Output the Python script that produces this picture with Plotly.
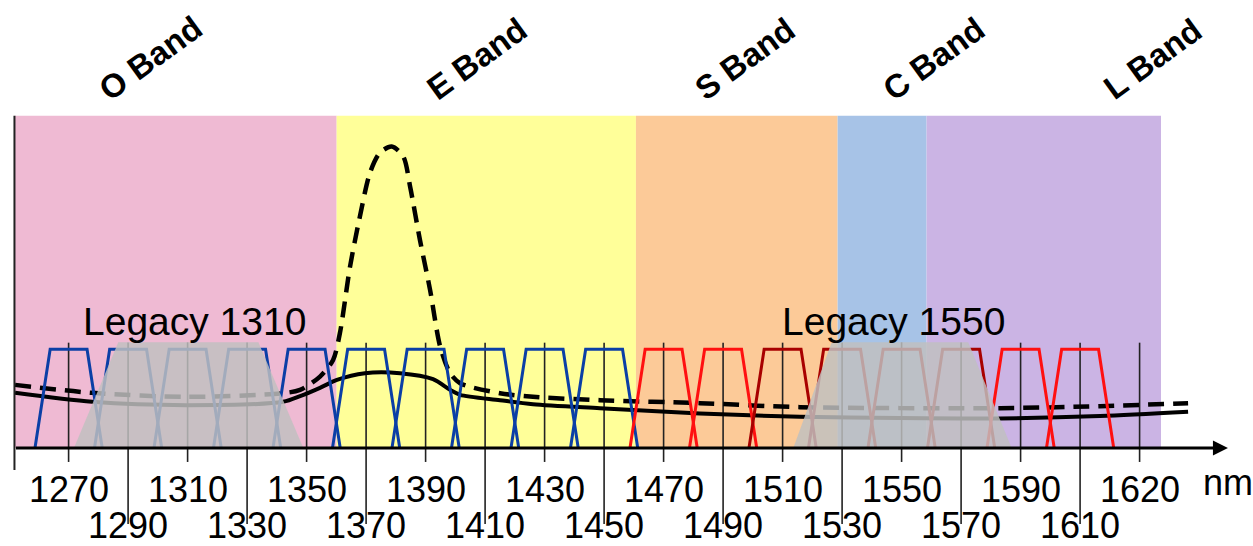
import plotly.graph_objects as go

# ---------------- data ----------------
band_names = ["O Band", "E Band", "S Band", "C Band", "L Band"]
band_edges = [1251.8, 1360.1, 1460.7, 1528.5, 1558.4, 1637.2]
band_colors = ["#EFBAD3", "#FFFF99", "#FCCA98", "#A7C3E7", "#CBB4E4"]
band_label_x = [1297.4, 1407.3, 1497.4, 1560.9, 1634.5]

tick_positions = [1270, 1290, 1310, 1330, 1350, 1370, 1390, 1410, 1430, 1450,
                  1470, 1490, 1510, 1530, 1550, 1570, 1590, 1610, 1630]
tick_labels = ["1270", "1290", "1310", "1330", "1350", "1370", "1390", "1410", "1430", "1450",
               "1470", "1490", "1510", "1530", "1550", "1570", "1590", "1610", "1620"]

channel_centers = [1270, 1290, 1310, 1330, 1350, 1370, 1390, 1410, 1430, 1450,
                   1470, 1490, 1510, 1530, 1550, 1570, 1590, 1610]
channel_groups = ["blue"] * 10 + ["red", "red", "darkred", "darkred", "darkred", "darkred", "red", "red"]

# low-water-peak fibre attenuation (solid)
wl_solid = [1252.0, 1277.9, 1309.5, 1342.1, 1347.8, 1354.5, 1360.2, 1369.6, 1381.4,
            1392.5, 1398.2, 1401.6, 1415.0, 1426.1, 1448.6, 1482.2, 1515.8, 1549.4,
            1583.1, 1616.7, 1646.3]
att_solid = [0.166, 0.139, 0.129, 0.139, 0.156, 0.181, 0.205, 0.225, 0.225,
             0.207, 0.175, 0.160, 0.144, 0.132, 0.120, 0.104, 0.094, 0.090,
             0.089, 0.096, 0.109]

# standard fibre with water peak (dashed)
wl_dashed = [1252.0, 1277.9, 1309.5, 1342.1, 1347.8, 1354.5, 1358.9, 1361.2, 1364.6,
             1367.9, 1371.3, 1374.6, 1378.6, 1382.5, 1384.8, 1388.1, 1391.5, 1394.9,
             1398.2, 1401.6, 1415.0, 1426.1, 1448.6, 1482.2, 1515.8, 1583.1, 1616.7, 1646.3]
att_dashed = [0.190, 0.166, 0.154, 0.165, 0.175, 0.215, 0.265, 0.346, 0.546,
              0.696, 0.828, 0.888, 0.907, 0.877, 0.786, 0.626, 0.476, 0.305,
              0.226, 0.195, 0.165, 0.154, 0.144, 0.135, 0.123, 0.120, 0.126, 0.135]

legacy_names = ["Legacy 1310", "Legacy 1550"]
legacy_bounds = [[1271.8, 1286.7, 1333.8, 1348.9], [1513.6, 1526.5, 1572.4, 1587.0]]
legacy_label_x = [1312.2, 1547.3]

# ---------------- style ----------------
group_color = {"blue": "#0B3FA6", "red": "#FF1010", "darkred": "#A80000"}
ch_top = 0.297
ch_half_bottom = 11.3
ch_half_top = 6.2
legacy_top = 0.318
band_top = 1.0
tick_top = 0.317
tick_short = -0.042
tick_long = -0.229
label_y_top = -0.126
label_y_bot = -0.232
axis_left = band_edges[0]
axis_right = 1659.7

font_reg = "Liberation Sans, Arial, sans-serif"

fig = go.Figure()
shapes = []
annotations = []

# band backgrounds
for i, name in enumerate(band_names):
    shapes.append(dict(type="rect", xref="x", yref="y", x0=band_edges[i], x1=band_edges[i + 1],
                       y0=0, y1=band_top, fillcolor=band_colors[i], line=dict(width=0), layer="below"))
    annotations.append(dict(x=band_label_x[i], y=1.172, xref="x", yref="y", text="<b>" + name + "</b>",
                            showarrow=False, textangle=-36, font=dict(family=font_reg, size=33, color="black"),
                            xanchor="center", yanchor="middle"))

# tick grid lines and tick marks
for i, (p, lab) in enumerate(zip(tick_positions, tick_labels)):
    low = tick_short if i % 2 == 0 else tick_long
    shapes.append(dict(type="line", xref="x", yref="y", x0=p, x1=p, y0=tick_top, y1=0,
                       line=dict(color="#222222", width=1.6), layer="below"))
    shapes.append(dict(type="line", xref="x", yref="y", x0=p, x1=p, y0=0, y1=low,
                       line=dict(color="#222222", width=1.6), layer="above"))
    annotations.append(dict(x=p, y=label_y_top if i % 2 == 0 else label_y_bot, xref="x", yref="y",
                            text=lab, showarrow=False, xanchor="center", yanchor="middle",
                            font=dict(family=font_reg, size=36, color="black")))

# attenuation curves
fig.add_trace(go.Scatter(x=wl_dashed, y=att_dashed, mode="lines",
                         line=dict(color="black", width=4.5, dash="16px,9px", shape="spline", smoothing=0.8),
                         hoverinfo="skip"))
fig.add_trace(go.Scatter(x=wl_solid, y=att_solid, mode="lines",
                         line=dict(color="black", width=4, shape="spline", smoothing=0.8),
                         hoverinfo="skip"))

# CWDM channel filters
for c, g in zip(channel_centers, channel_groups):
    fig.add_trace(go.Scatter(x=[c - ch_half_bottom, c - ch_half_top, c + ch_half_top, c + ch_half_bottom],
                             y=[0, ch_top, ch_top, 0], mode="lines",
                             line=dict(color=group_color[g], width=3), hoverinfo="skip"))

# legacy windows (grey translucent overlays)
for name, b, lx in zip(legacy_names, legacy_bounds, legacy_label_x):
    fig.add_trace(go.Scatter(x=[b[0], b[1], b[2], b[3], b[0]], y=[0, legacy_top, legacy_top, 0, 0],
                             mode="lines", fill="toself", fillcolor="rgba(192,192,192,0.84)",
                             line=dict(width=0), hoverinfo="skip"))
    annotations.append(dict(x=lx, y=0.381, xref="x", yref="y", text=name, showarrow=False,
                            xanchor="center", yanchor="middle",
                            font=dict(family=font_reg, size=39, color="black")))

# axes
shapes.append(dict(type="line", xref="x", yref="y", x0=axis_left, x1=axis_left, y0=band_top, y1=-0.066,
                   line=dict(color="#222222", width=2), layer="above"))
annotations.append(dict(x=axis_right, y=0, ax=axis_left, ay=0, xref="x", yref="y", axref="x", ayref="y",
                        text="", showarrow=True, arrowhead=2, arrowsize=1, arrowwidth=3, arrowcolor="black"))
annotations.append(dict(x=1650.6, y=-0.104, xref="x", yref="y", text="nm", showarrow=False,
                        xanchor="left", yanchor="middle", font=dict(family=font_reg, size=36, color="black")))

fig.update_layout(
    width=1253, height=546, margin=dict(l=0, r=0, t=0, b=0),
    paper_bgcolor="white", plot_bgcolor="white", showlegend=False,
    xaxis=dict(range=[1246.94, 1668.12], visible=False, fixedrange=True),
    yaxis=dict(range=[-0.2949, 1.3482], visible=False, fixedrange=True),
    shapes=shapes, annotations=annotations,
)

fig.write_html("out.html")
